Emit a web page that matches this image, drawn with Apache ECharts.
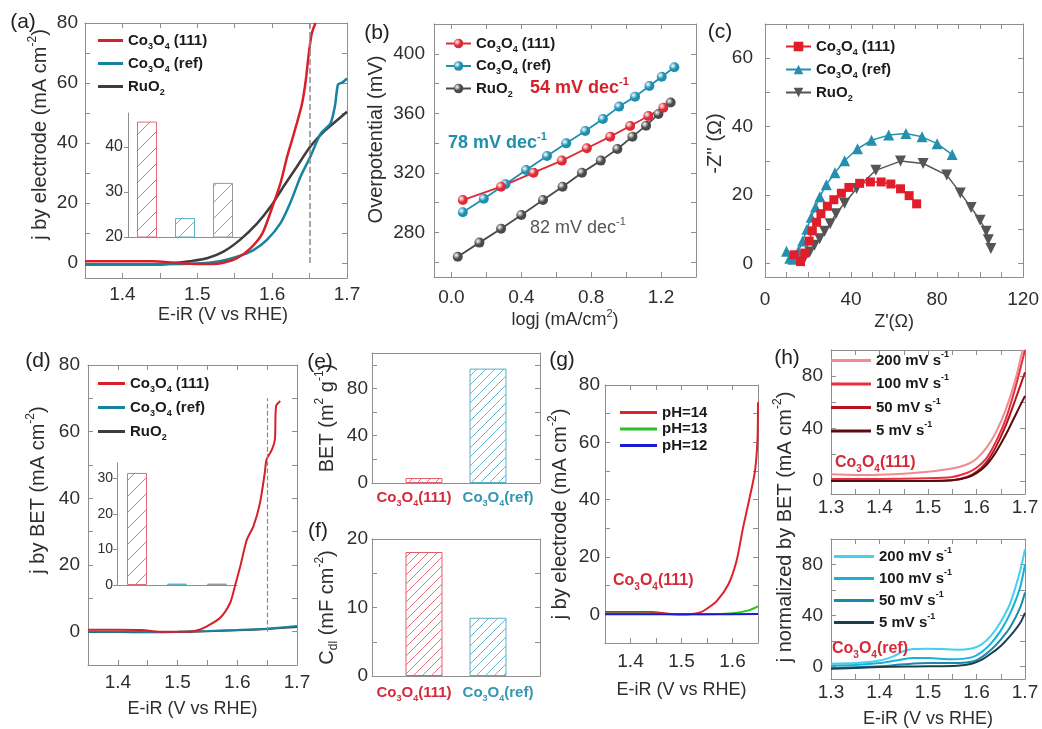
<!DOCTYPE html>
<html>
<head>
<meta charset="utf-8">
<title>Co3O4 OER panels</title>
<script src="https://cdn.jsdelivr.net/npm/echarts@6.0.0/dist/echarts.min.js"></script>
<style>
  html, body { margin: 0; padding: 0; background: #fff; }
  #fig { width: 1042px; height: 729px; }
</style>
</head>
<body>
<div id="fig"></div>
<script>
// ---------- values ----------
// (a) LSV normalised by electrode area  [E (V vs RHE), j (mA cm-2)]
const lsvA111 = [[1.35,0.6],[1.40,0.6],[1.44,0.6],[1.47,0.1],[1.50,-0.3],[1.52,-0.3],[1.535,0.1],[1.553,1.6],[1.571,4.9],[1.587,9.9],[1.600,18.5],[1.611,26.5],[1.620,35.4],[1.626,40.5],[1.633,46.6],[1.640,53.2],[1.645,61.0],[1.649,69.9],[1.653,76.6],[1.658,80.0]];
const lsvARef = [[1.35,-0.4],[1.40,-0.4],[1.45,-0.4],[1.50,-0.2],[1.53,0.6],[1.553,2.1],[1.575,4.3],[1.593,7.7],[1.611,13.2],[1.624,19.9],[1.638,28.8],[1.651,35.4],[1.665,43.2],[1.678,46.6],[1.684,52.5],[1.688,59.5],[1.694,60.2],[1.700,61.5]];
const lsvARuO2 = [[1.35,-0.5],[1.40,-0.5],[1.45,-0.5],[1.47,0.0],[1.49,0.6],[1.513,1.6],[1.535,3.8],[1.557,7.7],[1.580,13.2],[1.598,18.8],[1.615,25.4],[1.633,32.1],[1.651,38.8],[1.669,43.8],[1.682,46.6],[1.700,50.4]];
const sampleNames = ['Co3O4 (111)', 'Co3O4 (ref)', 'RuO2'];
const insetAVals = [45.6, 24.2, 32.0];
const markE = 1.65;
const dashA = [0, 80];

// (b) Tafel plots  [log j, overpotential (mV)]
const tafel111 = [[0.065,301.7],[0.284,310.7],[0.470,320.1],[0.632,328.2],[0.775,336.5],[0.909,344.3],[1.023,351.5],[1.127,358.2],[1.213,363.8]];
const tafelRef = [[0.065,293.5],[0.185,302.6],[0.309,312.3],[0.427,321.9],[0.547,331.3],[0.657,339.8],[0.766,348.1],[0.867,356.2],[0.960,364.5],[1.051,371.2],[1.133,378.4],[1.204,384.6],[1.276,390.9]];
const tafelRuO2 = [[0.036,263.6],[0.160,273.1],[0.284,282.5],[0.400,291.7],[0.524,301.7],[0.636,310.7],[0.747,320.1],[0.855,328.2],[0.950,336.0],[1.036,344.3],[1.114,351.7],[1.185,359.5],[1.255,367.2]];
const tafelSlopes = ['54 mV dec^-1', '78 mV dec^-1', '82 mV dec^-1'];

// (c) Nyquist plots  [Z', -Z'']
const nyq111 = [[13.5,2.5],[16.5,0.5],[18.5,3],[20.5,6.5],[22,9.5],[24,12],[26,14.5],[29,16.7],[32,18.6],[35.5,20.5],[39,22.2],[44,23.4],[49,23.8],[54,23.8],[58.5,23.2],[63,21.8],[67,19.8],[70.5,17.4]];
const nyqRef = [[10,3.5],[11.5,1.5],[13,1.2],[15.5,3.5],[17.5,6.5],[19.5,10],[21.5,13.5],[23.5,16.5],[25.5,19.5],[28.5,23],[32.5,26.5],[37,30],[43,33.5],[49.5,36],[57.5,37.5],[65.5,38],[73,37],[80,35],[87,31.8]];
const nyqRuO2 = [[16.5,1.5],[18.5,1.8],[20.8,3.3],[23,5.3],[25.4,7.2],[27.7,9.4],[30.3,11.6],[33,14.5],[37,17.6],[42.6,21.9],[51.5,27.2],[63,29.9],[73.5,29.2],[84.5,25.8],[90.8,20.6],[95.8,16.3],[100,12.6],[102.8,9.4],[103.8,6.9],[105,4.3]];

// (d) LSV normalised by BET area
const lsvD111 = [[1.35,0.6],[1.40,0.6],[1.44,0.5],[1.47,0.0],[1.52,0.0],[1.535,0.5],[1.549,1.6],[1.571,4.1],[1.588,8.6],[1.596,13.6],[1.605,19.6],[1.616,27.6],[1.627,31.6],[1.638,38.6],[1.646,47.6],[1.649,51.6],[1.658,54.6],[1.663,57.6],[1.665,67.7],[1.672,69.2]];
const lsvDRef = [[1.35,0.0],[1.40,0.0],[1.45,-0.1],[1.50,0.0],[1.55,0.2],[1.60,0.5],[1.65,0.9],[1.70,1.7]];
const lsvDRuO2 = [[1.35,-0.1],[1.40,-0.1],[1.45,-0.2],[1.50,-0.1],[1.55,0.1],[1.60,0.4],[1.65,0.8],[1.70,1.4]];
const insetDVals = [31.5, 0.4, 0.4];
const dashD = [0, 70];

// (e) BET area, (f) double-layer capacitance
const barCats = ['Co3O4(111)', 'Co3O4(ref)'];
const betVals = [4.2, 96.8];
const cdlVals = [18.1, 8.5];

// (g) pH dependence
const pHNames = ['pH=14', 'pH=13', 'pH=12'];
const lsvG14 = [[1.35,0.8],[1.40,0.8],[1.44,0.8],[1.48,0.1],[1.50,-0.1],[1.52,0.1],[1.535,0.6],[1.546,1.5],[1.569,4.6],[1.592,10.5],[1.608,18.7],[1.621,30.5],[1.634,41.0],[1.644,49.9],[1.649,61.0],[1.650,74.0]];
const lsvG13 = [[1.35,0.3],[1.40,0.3],[1.45,0.2],[1.50,0.0],[1.55,0.0],[1.60,0.4],[1.63,1.3],[1.65,2.8]];
const lsvG12 = [[1.35,0.0],[1.45,0.0],[1.55,0.0],[1.65,0.1]];

// (h) scan-rate dependence
const scanNames = ['200 mV s^-1', '100 mV s^-1', '50 mV s^-1', '5 mV s^-1'];
const h111s200 = [[1.30,5.0],[1.35,4.5],[1.40,4.8],[1.45,5.5],[1.50,7.0],[1.55,9.5],[1.58,12.5],[1.60,17],[1.62,25],[1.64,37],[1.66,54],[1.68,77],[1.695,100]];
const h111s100 = [[1.30,1.5],[1.40,1.5],[1.50,2.0],[1.55,3.0],[1.58,6.0],[1.60,10],[1.62,17],[1.64,30],[1.66,47],[1.68,71],[1.70,100]];
const h111s50 = [[1.30,0],[1.40,0],[1.50,0],[1.55,0.5],[1.58,3.0],[1.60,7],[1.62,14],[1.64,26],[1.66,42],[1.68,62],[1.70,83]];
const h111s5 = [[1.30,0],[1.40,0],[1.50,0],[1.55,0.5],[1.58,2.5],[1.60,6],[1.62,12],[1.64,22],[1.66,35],[1.68,50],[1.70,65]];
const hRefs200 = [[1.30,2],[1.35,2.5],[1.40,4.5],[1.43,8],[1.45,12],[1.47,13.5],[1.50,13.8],[1.53,13.5],[1.56,13],[1.59,14],[1.61,17],[1.63,24],[1.65,35],[1.67,50],[1.69,75],[1.70,92]];
const hRefs100 = [[1.30,0.5],[1.35,1],[1.40,2.5],[1.44,5],[1.47,6.5],[1.50,6.5],[1.55,5.5],[1.59,7],[1.61,11],[1.63,18],[1.65,28],[1.67,42],[1.69,62],[1.70,80]];
const hRefs50 = [[1.30,-1.5],[1.40,0],[1.45,1.5],[1.50,2.5],[1.55,2.5],[1.59,3.5],[1.61,7],[1.63,13],[1.65,21],[1.67,31],[1.69,46],[1.70,58]];
const hRefs5 = [[1.30,-2],[1.40,-0.5],[1.50,0],[1.56,0.5],[1.59,2],[1.61,5],[1.63,10],[1.65,16],[1.67,24],[1.69,34],[1.70,42]];

// tick positions and tick labels
const eTicksA = [1.35,1.4,1.45,1.5,1.55,1.6,1.65,1.7];
const eLabelsA = [1.4,1.5,1.6,1.7];
const eTicksG = [1.35,1.4,1.45,1.5,1.55,1.6,1.65];
const eLabelsG = [1.4,1.5,1.6];
const eTicksH = [1.3,1.35,1.4,1.45,1.5,1.55,1.6,1.65,1.7];
const eLabelsH = [1.3,1.4,1.5,1.6,1.7];
const jTicks80 = [0,10,20,30,40,50,60,70,80];
const jLabels80 = [0,20,40,60,80];
const jTicksH = [0,20,40,60,80,100];
const jLabelsH = [0,40,80];
const logjTicks = [0,0.2,0.4,0.6,0.8,1.0,1.2,1.4];
const logjLabels = [0,0.4,0.8,1.2];
const etaTicks = [260,280,300,320,340,360,380,400,420];
const etaLabels = [280,320,360,400];
const zReTicks = [0,10,20,30,40,50,60,70,80,90,100,110,120];
const zReLabels = [0,40,80,120];
const zImTicks = [0,10,20,30,40,50,60,70];
const zImLabels = [0,20,40,60];
const betTicks = [0,20,40,60,80,100];
const betLabels = [0,40,80];
const cdlTicks = [0,5,10,15,20];
const cdlLabels = [0,10,20];
const insetATicks = [20,30,40];
const insetDTicks = [0,10,20,30];

// ---------- styling ----------
const FONT = '"Liberation Sans", Arial, sans-serif';
const FRAME = '#8e8e8e';
const INK = '#2e2e2e';
const C111 = '#d8202b', CREF = '#17849f', CRU = '#3d3d3d';

// rich text: X3 -> subscript, _x -> subscript, ^x -> superscript
function rich(str, k) {
  k = k || '';
  return '{' + k + 'n|' + str
    .replace(/\^(-?\w+)/g, '}{' + k + 'p|$1}{' + k + 'n|')
    .replace(/_(\w+)/g, '}{' + k + 's|$1}{' + k + 'n|')
    .replace(/([A-Za-z])(\d+)/g, '$1}{' + k + 's|$2}{' + k + 'n|') + '}';
}
function richStyles(size, weight, color, k) {
  k = k || '';
  const sm = Math.round(size * 0.62);
  const base = {fontFamily: FONT, fontWeight: weight, color: color, fill: color};
  const o = {};
  o[k + 'n'] = Object.assign({fontSize: size, lineHeight: size + 6, verticalAlign: 'middle'}, base);
  o[k + 's'] = Object.assign({fontSize: sm, lineHeight: sm, verticalAlign: 'bottom'}, base);
  o[k + 'p'] = Object.assign({fontSize: sm, lineHeight: sm, verticalAlign: 'top'}, base);
  return o;
}
function hatch(color, step) {
  const c = document.createElement('canvas');
  c.width = step; c.height = step;
  const g = c.getContext('2d');
  g.strokeStyle = color; g.lineWidth = 1;
  g.beginPath();
  g.moveTo(0, step); g.lineTo(step, 0);
  g.moveTo(-step / 2, step / 2); g.lineTo(step / 2, -step / 2);
  g.moveTo(step / 2, step * 1.5); g.lineTo(step * 1.5, step / 2);
  g.stroke();
  return {image: c, repeat: 'repeat'};
}
function sphere(c) {
  return {type: 'radial', x: 0.35, y: 0.35, r: 0.75,
    colorStops: [{offset: 0, color: '#ffffff'}, {offset: 0.5, color: c}, {offset: 1, color: c}]};
}

const grid = [], xAxis = [], yAxis = [], series = [], legend = [], graphic = [];

function valueAxis(gi, pos, s, main) {
  const vertical = pos === 'left' || pos === 'right';
  const sh = s.shift || 0;
  return {
    gridIndex: gi, type: 'value', position: pos, min: s.min, max: s.max,
    axisLine: {show: true, onZero: false, lineStyle: {color: FRAME, width: 1}},
    axisTick: {show: true, inside: true, length: 5, customValues: s.ticks, lineStyle: {color: FRAME}},
    axisLabel: main ? {show: true, customValues: s.labels, formatter: s.fmt || (v => String(v)),
      margin: s.margin, color: INK, fontSize: 19, fontFamily: FONT} : {show: false},
    splitLine: {show: false},
    name: main && s.name ? rich(s.name) : '',
    nameLocation: 'middle', nameGap: s.gap || 0,
    nameTextStyle: {rich: richStyles(vertical ? 20 : 18, 'normal', INK),
      padding: sh >= 0 ? [0, 0, 0, 2 * sh] : [0, -2 * sh, 0, 0]}
  };
}
function frame(box, xs, ys) {
  const gi = grid.length;
  grid.push({left: box[0], top: box[1], width: box[2], height: box[3]});
  const p = {xi: xAxis.length, yi: yAxis.length};
  xAxis.push(valueAxis(gi, 'bottom', xs, true), valueAxis(gi, 'top', xs, false));
  yAxis.push(valueAxis(gi, 'left', ys, true), valueAxis(gi, 'right', ys, false));
  return p;
}
function addLine(p, name, data, color, width, extra) {
  series.push(Object.assign({
    type: 'line', name: name, xAxisIndex: p.xi, yAxisIndex: p.yi, data: data,
    symbol: 'none', showSymbol: false, smooth: 0.25, silent: true,
    lineStyle: {color: color, width: width}, itemStyle: {color: color}
  }, extra || {}));
}
// plainLine: legend key is a bare line (series drawn without markers)
function addLegend(left, top, names, itemWidth, itemGap, plainLine) {
  const lg = {
    left: left, top: top, orient: 'vertical', padding: 0, itemWidth: itemWidth, itemHeight: 12,
    itemGap: itemGap, data: names, selectedMode: false,
    formatter: n => rich(n.slice(2)),
    textStyle: {rich: richStyles(15, 'bold', '#1a1a1a'), fontSize: 15, fontWeight: 'bold', fontFamily: FONT}
  };
  if (plainLine) { lg.icon = 'rect'; lg.itemHeight = 3; }
  legend.push(lg);
}
function insetBars(box, cats, vals, ys, colors, step) {
  const gi = grid.length;
  grid.push({left: box[0], top: box[1], width: box[2], height: box[3]});
  const xi = xAxis.length, yi = yAxis.length;
  xAxis.push({gridIndex: gi, type: 'category', data: cats,
    axisLine: {onZero: false, lineStyle: {color: FRAME}}, axisTick: {show: false}, axisLabel: {show: false}});
  yAxis.push({gridIndex: gi, type: 'value', min: ys.min, max: ys.max,
    axisLine: {show: true, lineStyle: {color: FRAME}},
    axisTick: {show: true, length: 4, customValues: ys.ticks, lineStyle: {color: FRAME}},
    axisLabel: {customValues: ys.ticks, margin: ys.margin, fontSize: ys.size, color: INK, fontFamily: FONT},
    splitLine: {show: false}});
  series.push({type: 'bar', xAxisIndex: xi, yAxisIndex: yi, barWidth: 20, silent: true, clip: true,
    data: vals.map((v, i) => ({value: v, itemStyle: {color: hatch(colors[i], step), borderColor: colors[i], borderWidth: 1}}))});
}
function barPanel(box, cats, vals, ys, labelMargin) {
  const gi = grid.length;
  grid.push({left: box[0], top: box[1], width: box[2], height: box[3]});
  const xi = xAxis.length, yi = yAxis.length;
  const catRich = Object.assign(richStyles(15, 'bold', '#d42a3a', 'r'), richStyles(15, 'bold', '#3596b2', 'b'));
  xAxis.push({gridIndex: gi, type: 'category', data: cats, position: 'bottom',
      axisLine: {onZero: false, lineStyle: {color: FRAME}}, axisTick: {show: false},
      axisLabel: {margin: labelMargin, interval: 0, formatter: (v, i) => rich(v, i === 0 ? 'r' : 'b'), rich: catRich}},
    {gridIndex: gi, type: 'category', data: cats, position: 'top',
      axisLine: {onZero: false, lineStyle: {color: FRAME}}, axisTick: {show: false}, axisLabel: {show: false}});
  yAxis.push(valueAxis(gi, 'left', ys, true), valueAxis(gi, 'right', ys, false));
  // one series per sample; the empty slot pulls each bar toward the middle
  series.push({type: 'bar', name: cats[1], xAxisIndex: xi, yAxisIndex: yi, barWidth: 37, barGap: '-46%', silent: true,
    data: ['-', vals[1]], itemStyle: {color: hatch('#6ab6cb', 9), borderColor: '#5aaec6', borderWidth: 1}});
  series.push({type: 'bar', name: cats[0], xAxisIndex: xi, yAxisIndex: yi, barWidth: 37, barGap: '-46%', silent: true,
    data: [vals[0], '-'], itemStyle: {color: hatch('#e6747e', 9), borderColor: '#e0606c', borderWidth: 1}});
}
function addText(x, y, str, size, weight, color, extra) {
  const st = {text: rich(str), rich: richStyles(size, weight, color), fontSize: size, fontWeight: weight,
    fontFamily: FONT, fill: color, align: 'left', textAlign: 'left', verticalAlign: 'middle', textVerticalAlign: 'middle'};
  const el = {type: 'text', x: x, y: y, silent: true, z: 100, style: st};
  if (extra && extra.center) { st.align = st.textAlign = 'center'; }
  if (extra && extra.rotation) { el.rotation = extra.rotation; }
  graphic.push(el);
}
const fmt1 = v => v.toFixed(1);

// ---------- (a) ----------
const pa = frame([85, 23, 262, 255],
  {min: 1.35, max: 1.7, ticks: eTicksA, labels: eLabelsA, fmt: fmt1, margin: 7, name: 'E-iR (V vs RHE)', gap: 25, shift: 7},
  {min: -5, max: 80, ticks: jTicks80, labels: jLabels80, margin: 7, name: 'j by electrode (mA cm^-2)', gap: 32, shift: 16});
addLine(pa, 'a:' + sampleNames[2], lsvARuO2, CRU, 2.5);
addLine(pa, 'a:' + sampleNames[1], lsvARef, CREF, 2.5);
addLine(pa, 'a:' + sampleNames[0], lsvA111, C111, 2.5, {markLine: {silent: true, symbol: ['none', 'none'], label: {show: false},
  lineStyle: {type: 'dashed', color: '#8a8a8a', width: 1.5}, data: [[{coord: [markE, dashA[0]]}, {coord: [markE, dashA[1]]}]]}});
addLegend(98, 33, sampleNames.map(n => 'a:' + n), 25, 5, true);
insetBars([128, 113, 114, 124], sampleNames, insetAVals, {min: 20, max: 47.5, ticks: insetATicks, margin: 5, size: 16},
  ['#e26b75', '#5db3c9', '#9a9a9a'], 16);

// ---------- (b) ----------
const pb = frame([434, 24, 262, 253],
  {min: -0.1, max: 1.4, ticks: logjTicks, labels: logjLabels, fmt: fmt1, margin: 11, name: 'logj (mA/cm^2)', gap: 31},
  {min: 250, max: 420, ticks: etaTicks, labels: etaLabels, margin: 9, name: 'Overpotential (mV)', gap: 45, shift: 11});
addLine(pb, 'b:' + sampleNames[2], tafelRuO2, '#4a4a4a', 1.8, {smooth: false, symbol: 'circle', symbolSize: 10, showSymbol: true, itemStyle: {color: sphere('#4a4a4a')}});
addLine(pb, 'b:' + sampleNames[1], tafelRef, '#1f8fb0', 1.8, {smooth: false, symbol: 'circle', symbolSize: 10, showSymbol: true, itemStyle: {color: sphere('#1f8fb0')}});
addLine(pb, 'b:' + sampleNames[0], tafel111, '#dc2a36', 1.8, {smooth: false, symbol: 'circle', symbolSize: 10, showSymbol: true, itemStyle: {color: sphere('#dc2a36')}});
addLegend(445, 36, sampleNames.map(n => 'b:' + n), 25, 4.5);
addText(530, 88, tafelSlopes[0], 18, 'bold', '#d8202b');
addText(448, 143, tafelSlopes[1], 18, 'bold', '#1f8fae');
addText(530, 228, tafelSlopes[2], 18, 'normal', '#555555');

// ---------- (c) ----------
const pc = frame([765, 24, 260, 253],
  {min: 0, max: 120, ticks: zReTicks, labels: zReLabels, margin: 13, name: "Z'(Ω)", gap: 33},
  {min: -4, max: 70, ticks: zImTicks, labels: zImLabels, margin: 12, name: "-Z'' (Ω)", gap: 37, shift: 7});
addLine(pc, 'c:' + sampleNames[2], nyqRuO2, '#555555', 1.5, {smooth: false, symbol: 'triangle', symbolRotate: 180, symbolSize: 11, showSymbol: true});
addLine(pc, 'c:' + sampleNames[1], nyqRef, '#2490ad', 1.5, {smooth: false, symbol: 'triangle', symbolSize: 11, showSymbol: true});
addLine(pc, 'c:' + sampleNames[0], nyq111, '#e01d2b', 1.5, {smooth: false, symbol: 'rect', symbolSize: 9, showSymbol: true});
addLegend(785, 39, sampleNames.map(n => 'c:' + n), 25, 5);

// ---------- (d) ----------
const pd = frame([88, 365, 209, 300],
  {min: 1.35, max: 1.7, ticks: eTicksA, labels: eLabelsA, fmt: fmt1, margin: 8, name: 'E-iR (V vs RHE)', gap: 32},
  {min: -10, max: 80, ticks: jTicks80, labels: jLabels80, margin: 8, name: 'j by BET (mA cm^-2)', gap: 37, shift: 25});
addLine(pd, 'd:' + sampleNames[2], lsvDRuO2, CRU, 2);
addLine(pd, 'd:' + sampleNames[1], lsvDRef, CREF, 2);
addLine(pd, 'd:' + sampleNames[0], lsvD111, C111, 2, {markLine: {silent: true, symbol: ['none', 'none'], label: {show: false},
  lineStyle: {type: 'dashed', color: '#8a8a8a', width: 1.2}, data: [[{coord: [markE, dashD[0]]}, {coord: [markE, dashD[1]]}]]}});
addLegend(98, 376, sampleNames.map(n => 'd:' + n), 27, 6, true);
insetBars([117, 463, 120, 122], sampleNames, insetDVals, {min: 0, max: 34.3, ticks: insetDTicks, margin: 4, size: 14},
  ['#e26b75', '#5db3c9', '#9a9a9a'], 16);

// ---------- (e) and (f) ----------
barPanel([372, 353, 168, 130], barCats, betVals,
  {min: 0, max: 110, ticks: betTicks, labels: betLabels, margin: 4, name: 'BET (m^2 g^-1)', gap: 32}, 4);
barPanel([372, 539, 168, 137], barCats, cdlVals,
  {min: 0, max: 20, ticks: cdlTicks, labels: cdlLabels, margin: 4, name: 'C_dl (mF cm^-2)', gap: 32}, 6);

// ---------- (g) ----------
const pg = frame([605, 385, 153, 258],
  {min: 1.35, max: 1.65, ticks: eTicksG, labels: eLabelsG, fmt: fmt1, margin: 9, name: 'E-iR (V vs RHE)', gap: 35},
  {min: -10, max: 80, ticks: jTicks80, labels: jLabels80, margin: 5, name: 'j by electrode (mA cm^-2)', gap: 32});
addLine(pg, 'g:' + pHNames[0], lsvG14, '#e0202a', 2);
addLine(pg, 'g:' + pHNames[1], lsvG13, '#2cc02c', 2);
addLine(pg, 'g:' + pHNames[2], lsvG12, '#1a1ad2', 2);
addLegend(620, 405, pHNames.map(n => 'g:' + n), 37, 1.5, true);
addText(613, 581, 'Co3O4(111)', 16, 'bold', '#d42a3a');

// ---------- (h) ----------
const ph1 = frame([831, 350, 194, 144],
  {min: 1.3, max: 1.7, ticks: eTicksH, labels: eLabelsH, fmt: fmt1, margin: 4},
  {min: -10, max: 100, ticks: jTicksH, labels: jLabelsH, margin: 8});
const redScan = ['#f28a92', '#e8303c', '#b5141f', '#5a0c10'];
[h111s200, h111s100, h111s50, h111s5].forEach((d, i) => addLine(ph1, 'h:' + scanNames[i], d, redScan[i], 2));
addLegend(831, 350, scanNames.map(n => 'h:' + n), 40, 5.5, true);
addText(835, 463, 'Co3O4(111)', 16, 'bold', '#d42a3a');

const ph2 = frame([831, 539, 194, 145],
  {min: 1.3, max: 1.7, ticks: eTicksH, labels: eLabelsH, fmt: fmt1, margin: 4, name: 'E-iR (V vs RHE)', gap: 28},
  {min: -10, max: 100, ticks: jTicksH, labels: jLabelsH, margin: 8});
const blueScan = ['#45cff0', '#1ab0d8', '#1a8aaa', '#1b3f4e'];
[hRefs200, hRefs100, hRefs50, hRefs5].forEach((d, i) => addLine(ph2, 'k:' + scanNames[i], d, blueScan[i], 2));
addLegend(834, 546, scanNames.map(n => 'k:' + n), 40, 4, true);
addText(832, 649, 'Co3O4(ref)', 16, 'bold', '#d42a3a');
addText(785, 527, 'j normalized by BET (mA cm^-2)', 20, 'normal', INK, {center: true, rotation: Math.PI / 2});

// panel letters
const panelLetters = ['(a)', '(b)', '(c)', '(d)', '(e)', '(f)', '(g)', '(h)'];
const letterPos = [[23, 22], [377, 33], [720, 32], [38, 361], [320, 362], [318, 531], [562, 360], [787, 358]];
panelLetters.forEach((t, i) => addText(letterPos[i][0], letterPos[i][1], t, 21, 'normal', '#222', {center: true}));

const chart = echarts.init(document.getElementById('fig'));
chart.setOption({
  animation: false,
  textStyle: {fontFamily: FONT},
  grid: grid, xAxis: xAxis, yAxis: yAxis, series: series, legend: legend, graphic: graphic
});
window.addEventListener('resize', () => chart.resize());
</script>
</body>
</html>
